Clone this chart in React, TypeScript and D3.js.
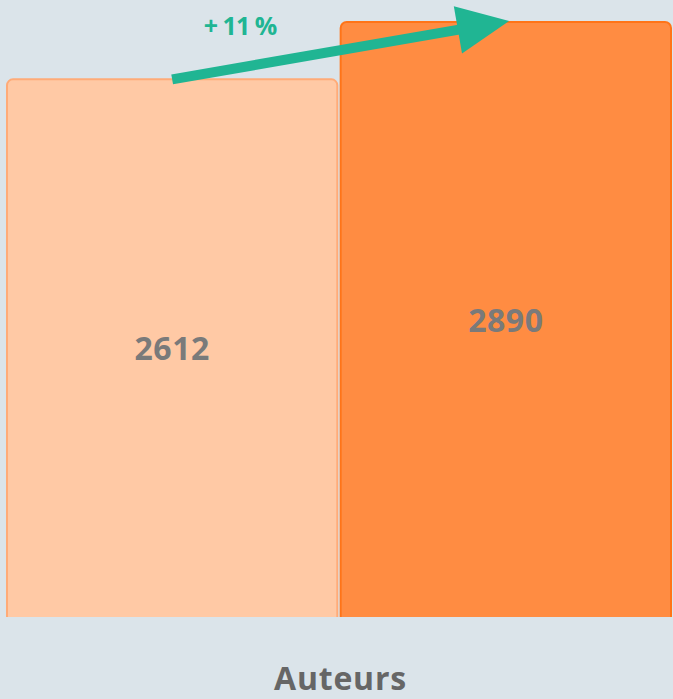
import React from "react";
import * as d3 from "d3";

const categories = ["Avant", "Après"];
const values = [2612, 2890];
const fills = ["#ffc9a5", "#ff8c42"];
const borders = ["#ffab78", "#ff7418"];
const axisLabel = "Auteurs";
const changeLabel = "+ 11 %";

const W = 673;
const H = 699;
const margin = { top: 21, right: 1, bottom: 82, left: 6 };
const baseY = H - margin.bottom;

export default function App() {
  const x = d3.scaleBand<string>()
    .domain(categories)
    .range([margin.left, W - margin.right])
    .paddingInner(0.004);

  const y = d3.scaleLinear()
    .domain([0, d3.max(values) as number])
    .range([baseY, margin.top]);

  // arrow from top of first bar to top of second
  const x0 = (x(categories[0]) as number) + x.bandwidth() * 0.5;
  const y0 = y(values[0]) + 1;
  const x1 = (x(categories[1]) as number) + x.bandwidth() * 0.51;
  const y1 = y(values[1]);
  const ang = Math.atan2(y1 - y0, x1 - x0);
  const headLen = 52;
  const headHalf = 24;
  const bx = x1 - headLen * Math.cos(ang);
  const by = y1 - headLen * Math.sin(ang);
  const nx = -Math.sin(ang);
  const ny = Math.cos(ang);
  const head = [
    [x1, y1],
    [bx + nx * headHalf, by + ny * headHalf],
    [bx - nx * headHalf, by - ny * headHalf],
  ];

  return (
    <div style={{ position: "absolute", left: 0, top: 0 }}>
      <svg width={W} height={H} style={{ display: "block", background: "#dbe4ea" }}>
        <defs>
          <clipPath id="plot">
            <rect x={0} y={0} width={W} height={baseY} />
          </clipPath>
        </defs>
        <g clipPath="url(#plot)">
          {values.map((v, i) => (
            <rect
              key={categories[i]}
              x={(x(categories[i]) as number) + 1}
              y={y(v) + 1}
              width={x.bandwidth() - 2}
              height={baseY - y(v) + 10}
              rx={6}
              fill={fills[i]}
              stroke={borders[i]}
              strokeWidth={2}
            />
          ))}
        </g>
        {values.map((v, i) => (
          <text
            key={"t" + i}
            x={(x(categories[i]) as number) + x.bandwidth() / 2}
            y={(y(v) + baseY) / 2}
            textAnchor="middle"
            dominantBaseline="central"
            fontFamily="'Open Sans', sans-serif"
            fontWeight={700}
            fontSize={32}
            letterSpacing={0.5}
            fill="#7a7a7a"
          >
            {v}
          </text>
        ))}
        <line
          x1={x0}
          y1={y0}
          x2={bx + 4 * Math.cos(ang)}
          y2={by + 4 * Math.sin(ang)}
          stroke="#20b593"
          strokeWidth={10}
        />
        <polygon points={head.map((p) => p.join(",")).join(" ")} fill="#20b593" />
        <text
          x={240}
          y={25}
          textAnchor="middle"
          dominantBaseline="central"
          fontFamily="'Open Sans', sans-serif"
          fontWeight={700}
          fontSize={25}
          letterSpacing={-1}
          fill="#20b593"
        >
          {changeLabel}
        </text>
        <text
          x={W / 2 + 4}
          y={690}
          textAnchor="middle"
          fontFamily="'Open Sans', sans-serif"
          fontWeight={700}
          fontSize={32}
          letterSpacing={0.8}
          fill="#666666"
        >
          {axisLabel}
        </text>
      </svg>
    </div>
  );
}
